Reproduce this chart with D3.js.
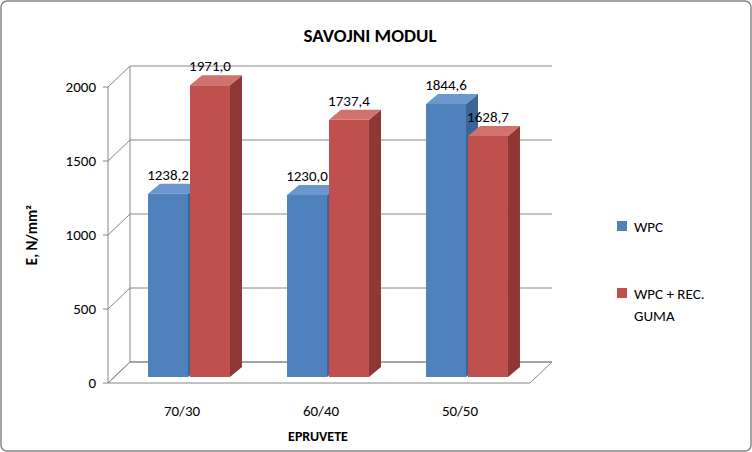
<!DOCTYPE html><html><head><meta charset="utf-8"><script src="https://d3js.org/d3.v7.min.js"></script>
<style>body{margin:0;background:#fff}text{font-family:Calibri,Carlito,"Open Sans","Liberation Sans",Arial,sans-serif}</style></head><body>
<script>
const categories=["70/30","60/40","50/50"];
const seriesNames=["WPC","WPC + REC. GUMA"];
const wpc=[1238.2,1230.0,1844.6];
const wpcGuma=[1971.0,1737.4,1628.7];
const yTicks=[0,500,1000,1500,2000];
const colors=[{f:"#4F81BD",t:"#6C97CE",s:"#3A6594"},{f:"#C0504D",t:"#D2726F",s:"#8E3735"}];
const W=752,H=452,dx=22,dy=-21;
const svg=d3.select("body").append("svg").attr("width",W).attr("height",H);
svg.append("rect").attr("x",1).attr("y",1).attr("width",W-2).attr("height",H-2).attr("rx",6).attr("fill","#fff").attr("stroke","#868686").attr("stroke-width",1.5);
const yAx=d3.scaleLinear().domain([0,2000]).range([383,87]);
const yBar=d3.scaleLinear().domain([0,2000]).range([377,81]);
const x0=d3.scaleBand().domain(categories).range([116,538]).paddingInner(0.396).paddingOuter(0.216);
const x1=d3.scaleBand().domain([0,1]).range([0,x0.bandwidth()]);
const L=108,R=530;
svg.append("path").attr("d",`M${L},${yAx(0)}L${R},${yAx(0)}L${R+dx},${yAx(0)+dy}L${L+dx},${yAx(0)+dy}Z`).attr("fill","none").attr("stroke","#868686");
yTicks.forEach(t=>{const y=yAx(t);
 svg.append("path").attr("d",`M${L},${y}L${L+dx},${y+dy}L${R+dx},${y+dy}`).attr("fill","none").attr("stroke","#868686");
 svg.append("line").attr("x1",L-5).attr("x2",L).attr("y1",y).attr("y2",y).attr("stroke","#868686");
 svg.append("text").attr("x",L-12).attr("y",y+5).attr("text-anchor","end").attr("font-size",15).text(t);});
svg.append("line").attr("x1",L).attr("x2",L).attr("y1",yAx(0)).attr("y2",yAx(2000)).attr("stroke","#868686");
svg.append("line").attr("x1",L+dx).attr("x2",L+dx).attr("y1",yAx(0)+dy).attr("y2",yAx(2000)+dy).attr("stroke","#868686");
const bd=12,bh=-10;
const series=[wpc,wpcGuma];
categories.forEach((c,i)=>{[0,1].forEach(s=>{
 const v=series[s][i],x=x0(c)+x1(s)+2,w=x1.bandwidth()-2,y=yBar(v),b=yBar(0),col=colors[s];
 const g=svg.append("g");
 g.append("path").attr("d",`M${x+w},${y}L${x+w+bd},${y+bh}L${x+w+bd},${b+bh}L${x+w},${b}Z`).attr("fill",col.s);
 g.append("path").attr("d",`M${x},${y}L${x+bd},${y+bh}L${x+w+bd},${y+bh}L${x+w},${y}Z`).attr("fill",col.t);
 g.append("rect").attr("x",x).attr("y",y).attr("width",w).attr("height",b-y).attr("fill",col.f);
 g.append("text").attr("x",x+w/2).attr("y",y-14).attr("text-anchor","middle").attr("font-size",15).text(v.toFixed(1).replace(".",","));
});
 svg.append("text").attr("x",x0(c)+x0.bandwidth()/2-6).attr("y",416).attr("text-anchor","middle").attr("font-size",15).text(c);
});
svg.append("text").attr("x",W/2-6).attr("y",42).attr("text-anchor","middle").attr("font-size",19).attr("font-weight","bold").text("SAVOJNI MODUL");
svg.append("text").attr("x",318).attr("y",441).attr("text-anchor","middle").attr("font-size",14).attr("font-weight","bold").text("EPRUVETE");
svg.append("text").attr("transform","translate(37,235) rotate(-90)").attr("text-anchor","middle").attr("font-size",15).attr("font-weight","bold").text("E, N/mm²");
svg.append("rect").attr("x",617).attr("y",221).attr("width",10).attr("height",10).attr("fill",colors[0].f);
svg.append("text").attr("x",634).attr("y",232).attr("font-size",15).text(seriesNames[0]);
svg.append("rect").attr("x",617).attr("y",288).attr("width",10).attr("height",10).attr("fill",colors[1].f);
const lt=svg.append("text").attr("x",634).attr("y",299).attr("font-size",15);
lt.append("tspan").text("WPC + REC.");
lt.append("tspan").attr("x",634).attr("dy",22).text("GUMA");
</script></body></html>
